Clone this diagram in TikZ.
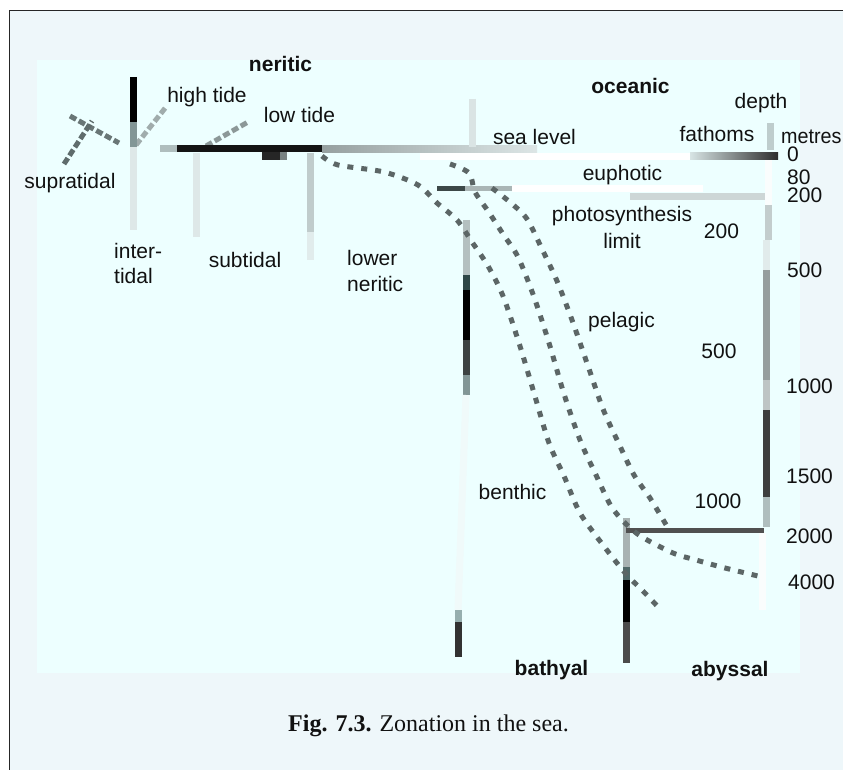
\documentclass[tikz,border=0pt]{standalone}
\usepackage{fontspec}
\setmainfont{Liberation Serif}
\newfontfamily\labelfont{Liberation Sans}
\definecolor{outerbg}{RGB}{238,247,250}
\definecolor{innerbg}{RGB}{237,255,255}
\definecolor{ink}{RGB}{17,17,17}
\definecolor{curvegray}{RGB}{92,102,102}
\definecolor{paleline}{RGB}{218,228,228}
\tikzset{
  lbl/.style={font=\labelfont\fontsize{21}{25}\selectfont, inner sep=0pt, text=ink, anchor=base},
  lblw/.style={lbl, anchor=base west},
  blbl/.style={lbl, font=\labelfont\bfseries\fontsize{21}{25}\selectfont},
  dotcurve/.style={line width=5pt, draw=curvegray, dash pattern=on 6pt off 8pt},
  pixline/.style={line width=5pt, dash pattern=on 7pt off 3pt},
  bar/.style={line width=7pt},
  thinbar/.style={line width=5pt},
}
\begin{document}
\begin{tikzpicture}[x=1pt,y=-1pt]
\useasboundingbox (0,0) rectangle (843,770);
% backgrounds
\fill[white] (0,0) rectangle (843,770);
\fill[outerbg] (9.5,10.5) rectangle (843,770);
\fill[innerbg] (37,60) rectangle (800,672.5);
\draw[line width=1.5pt, draw=black!85] (9.5,770) -- (9.5,10.5) -- (843,10.5);

% ---- left coast ----
\draw[pixline, draw={rgb,255:red,105;green,118;blue,118}] (70,116) -- (119,143);
\draw[pixline, draw={rgb,255:red,95;green,108;blue,108}] (64,164) -- (92,121);
% high tide / low tide leaders
\draw[pixline, draw={rgb,255:red,160;green,172;blue,172}] (136,145) -- (166,107);
\draw[pixline, draw={rgb,255:red,140;green,152;blue,152}] (206,146) -- (248,122);
% vertical dividers on shelf
\draw[bar, draw=black] (133,77) -- (133,122);
\draw[bar, draw={rgb,255:red,130;green,150;blue,150}] (133,122) -- (133,147);
\draw[bar, draw={rgb,255:red,222;green,232;blue,232}] (133,147) -- (133,230);
\draw[bar, draw={rgb,255:red,222;green,232;blue,232}] (196,153) -- (196,237);
\draw[bar, draw={rgb,255:red,192;green,204;blue,204}] (310,153) -- (310,232);
\draw[bar, draw={rgb,255:red,225;green,236;blue,236}] (310,232) -- (310,260);

% ---- sea level ----
\draw[bar, draw={rgb,255:red,175;green,190;blue,190}] (160,149) -- (177,149);
\draw[bar, draw=black!92] (177,149) -- (322,149);
\shade[left color={rgb,255:red,150;green,160;blue,160}, right color={rgb,255:red,220;green,230;blue,230}] (322,145.5) rectangle (537,152.5);
\fill[black!85] (262,152) rectangle (280,160);
\fill[fill={rgb,255:red,120;green,130;blue,130}] (280,152) rectangle (287,160);
\draw[bar, draw=white] (420,156.5) -- (690,156.5);
\shade[left color={rgb,255:red,215;green,228;blue,228}, right color={rgb,255:red,45;green,45;blue,45}] (690,153) rectangle (778,160);

% ---- photosynthesis limit ----
\draw[bar, draw=white] (512,188.5) -- (703,188.5);
\draw[thinbar, draw={rgb,255:red,60;green,72;blue,72}] (437,189) -- (465,189);
\draw[thinbar, draw={rgb,255:red,170;green,182;blue,182}] (465,189) -- (512,189);
\draw[bar, draw={rgb,255:red,205;green,214;blue,214}] (630,197) -- (770,197);

% ---- neritic / oceanic divider ----
\draw[bar, draw=paleline] (472,99) -- (472,147);
\draw[bar, draw={rgb,255:red,180;green,192;blue,192}] (466,220) -- (466,275);
\draw[bar, draw={rgb,255:red,45;green,70;blue,70}] (466,275) -- (466,290);
\draw[bar, draw=black] (466,290) -- (466,340);
\draw[bar, draw={rgb,255:red,60;green,66;blue,66}] (466,340) -- (466,375);
\draw[bar, draw={rgb,255:red,130;green,150;blue,150}] (466,375) -- (466,395);
\draw[bar, draw={rgb,255:red,240;green,250;blue,250}] (466,395) -- (458,610);
\draw[bar, draw={rgb,255:red,150;green,175;blue,175}] (458,610) -- (458,622);
\draw[bar, draw={rgb,255:red,50;green,50;blue,50}] (458,622) -- (458,657);

% ---- bathyal / abyssal divider ----
\draw[bar, draw={rgb,255:red,168;green,178;blue,178}] (626,518) -- (626,567);
\draw[bar, draw={rgb,255:red,80;green,105;blue,105}] (626,567) -- (626,580);
\draw[bar, draw=black] (626,580) -- (626,622);
\draw[bar, draw={rgb,255:red,75;green,75;blue,75}] (626,622) -- (626,663);
\draw[thinbar, draw={rgb,255:red,80;green,80;blue,80}] (626,530) -- (764,530);

% ---- depth axis ----
\draw[bar, draw={rgb,255:red,190;green,205;blue,205}] (770,123) -- (770,150);
\draw[bar, draw={rgb,255:red,250;green,253;blue,253}] (768,160) -- (768,205);
\draw[bar, draw={rgb,255:red,195;green,205;blue,205}] (768,205) -- (768,240);
\draw[bar, draw={rgb,255:red,225;green,235;blue,235}] (766,240) -- (766,270);
\draw[bar, draw={rgb,255:red,150;green,158;blue,158}] (766,270) -- (766,380);
\draw[bar, draw={rgb,255:red,190;green,196;blue,196}] (766,380) -- (766,410);
\draw[bar, draw={rgb,255:red,62;green,62;blue,62}] (766,410) -- (766,497);
\draw[bar, draw={rgb,255:red,175;green,190;blue,190}] (766,497) -- (766,527);
\draw[bar, draw={rgb,255:red,250;green,253;blue,253}] (762,533) -- (762,610);

% ---- slope curves ----
\draw[dotcurve] plot[smooth] coordinates {(322,156) (338,165) (384,172) (418,185) (437,203) (457,220) (472,242) (488,266) (503,296) (519,343) (534,393) (549,443) (564,476) (580,513) (603,545) (626,574) (642,590) (660,609)};
\draw[dotcurve] plot[smooth] coordinates {(450,164) (469,173) (475,192) (488,211) (503,234) (518,257) (534,297) (549,343) (564,394) (580,440) (596,475) (611,506) (626,524) (642,537) (673,553) (696,560) (725,568) (758,576)};
\draw[dotcurve] plot[smooth] coordinates {(492,188) (511,203) (527,219) (542,249) (557,281) (572,320) (588,366) (603,409) (619,444) (634,475) (650,498) (668,528)};

% ---- labels ----
\node[blbl] (neritic) at (280.5,72) {neritic};
\node[lbl] (hightide) at (207,103) {high tide};
\node[lbl] (lowtide) at (299.5,123) {low tide};
\node[lbl] (supratidal) at (70,189) {supratidal};
\node[lblw] (inter1) at (114,258) {inter-};
\node[lblw] (inter2) at (114,283) {tidal};
\node[lbl] (subtidal) at (245,267) {subtidal};
\node[lblw] (lower1) at (347,265) {lower};
\node[lblw] (lower2) at (347,291) {neritic};
\node[blbl] (oceanic) at (630.5,94) {oceanic};
\node[lbl] (depth) at (761,109) {depth};
\node[lbl] (fathoms) at (717,142) {fathoms};
\node[lblw] (metres) at (781,144) {\scalebox{0.94}[1]{metres}};
\node[lbl] (sealevel) at (534.5,145) {sea level};
\node[lblw] (m0) at (787,162) {0};
\node[lbl] (euphotic) at (622.5,181) {euphotic};
\node[lblw] (m80) at (787,185) {80};
\node[lblw] (m200) at (787,203) {200};
\node[lbl] (photo) at (622,222) {photosynthesis};
\node[lbl] (limit) at (622,248) {limit};
\node[lbl] (f200) at (721.5,238) {200};
\node[lblw] (m500) at (787,277) {500};
\node[lbl] (pelagic) at (621.5,327) {pelagic};
\node[lbl] (f500) at (719,358) {500};
\node[lblw] (m1000) at (786,393) {1000};
\node[lblw] (m1500) at (786,483) {1500};
\node[lbl] (f1000) at (718,508) {1000};
\node[lbl] (benthic) at (512.5,499) {benthic};
\node[lblw] (m2000) at (786,543) {2000};
\node[lblw] (m4000) at (788,589) {4000};
\node[blbl] (bathyal) at (551.5,675) {bathyal};
\node[blbl] (abyssal) at (730,676) {abyssal};
% caption
\node[inner sep=0pt, anchor=base, text=ink, font=\fontsize{24}{28}\selectfont] (caption) at (428.5,731.7) {\textbf{Fig. 7.3.} Zonation in the sea.};
\end{tikzpicture}
\end{document}
